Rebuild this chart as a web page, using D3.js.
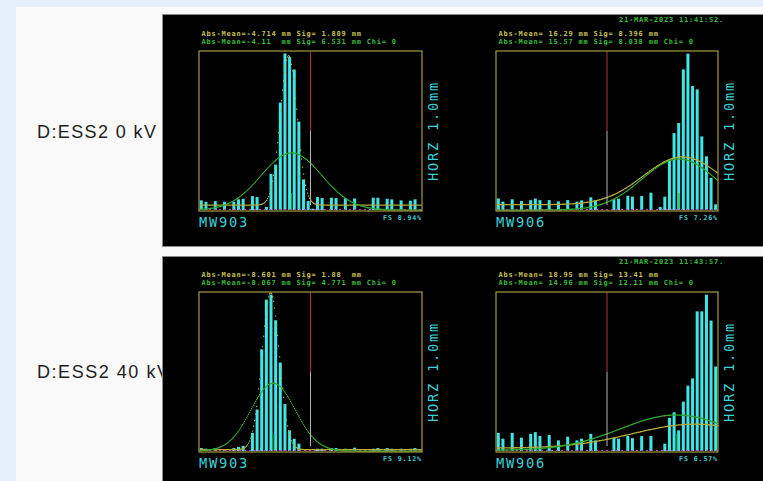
<!DOCTYPE html>
<html>
<head>
<meta charset="utf-8">
<script src="https://cdn.jsdelivr.net/npm/d3@7"></script>
<style>
  body { margin: 0; background: #e6f0fb; }
  svg { display: block; }
</style>
</head>
<body>
<svg id="chart" width="763" height="481"></svg>
<script>
// one-millimetre bins from -24 to +24 mm
const binEdges = d3.range(-24, 24)

const rowLabels = ['D:ESS2 0 kV', 'D:ESS2 40 kV']
const timeStamps = ['21-MAR-2023 11:41:52.', '21-MAR-2023 11:43:57.']
const wireNames = ['MW903', 'MW906']
const axisLabel = 'HORZ 1.0mm'

// histograms, % of samples in each bin
const mw903Off = [0.54, 0.46, 0, 0.50, 0, 0.46, 0, 0.46, 0.60, 0.63, 0, 0.78,
  0.73, 0, 0.17, 2.03, 2.55, 6.04, 8.80, 8.60, 7.90, 4.97, 1.72, 0.50,
  0.07, 0.73, 0.67, 0, 0.69, 0.67, 0, 0.65, 0, 0.65, 0, 0,
  0, 0.69, 0.69, 0, 0.63, 0.60, 0, 0.54, 0, 0.52, 0.60, 0]
const mw906Off = [0.53, 0.38, 0, 0.49, 0, 0.41, 0, 0.45, 0.52, 0.45, 0, 0.45,
  0, 0.39, 0, 0.45, 0, 0.38, 0.44, 0, 0.58, 0.44, 0, 0,
  0, 0.49, 0.52, 0, 0.65, 0.61, 0, 0.64, 0, 0.79, 0, 0.14,
  0.61, 2.30, 3.51, 3.97, 6.42, 7.14, 5.66, 5.51, 3.36, 2.45, 1.47, 0.26]
const mw903On = [0.17, 0.13, 0, 0.17, 0, 0.10, 0, 0.17, 0.23, 0.29, 0, 1.04,
  2.38, 5.83, 8.68, 8.97, 7.50, 5.07, 2.70, 1.18, 0.70, 0.42, 0, 0,
  0, 0.13, 0.13, 0, 0.17, 0.17, 0, 0.13, 0, 0.19, 0, 0,
  0, 0.13, 0.17, 0, 0.17, 0.13, 0, 0.13, 0, 0.13, 0.17, 0]
const mw906On = [0.75, 0.51, 0, 0.75, 0, 0.55, 0, 0.71, 0.78, 0.62, 0, 0.66,
  0, 0.44, 0, 0.59, 0, 0.44, 0.51, 0, 0.71, 0.44, 0, 0,
  0, 0.55, 0.51, 0, 0.62, 0.53, 0, 0.62, 0, 0.62, 0, 0,
  0.30, 1.37, 1.60, 0.85, 2.04, 2.70, 3.00, 5.77, 5.77, 6.46, 5.39, 3.49]
const fullScales = [8.94, 7.26, 9.12, 6.57]

// gaussian fits: [abs-mean mm, sigma mm, amplitude %, pedestal %]
const fitYellow = [[-4.714, 1.809, 8.4, 0.28], [16.29, 8.396, 2.18, 0.245],
  [-8.601, 1.88, 9.0, 0.08], [18.95, 13.41, 0.99, 0.12]]
const fitGreen = [[-4.11, 6.531, 3.21, 0], [15.57, 8.038, 2.33, 0],
  [-8.067, 4.771, 3.89, 0], [14.96, 12.11, 1.46, 0.03]]
const chiValues = [0, 0, 0, 0]

const hist = [mw903Off, mw906Off, mw903On, mw906On]

const mono = "'DejaVu Sans Mono', monospace"
const col = {
  yellowText: '#c8c050', greenText: '#38bc38', cyan: '#3ee6e6', cyanText: '#3cd2d8',
  box: '#a49c40', fitY: '#b4aa3c', fitG: '#2ea82e', magenta: '#c83cc8',
  red: '#b03434', grey: '#b4b4b4'
}

const rowTop = [14, 256]
const rowBottom = [246, 482]
const labelY = [137.7, 377.7]
const plotTop = [51, 292]
const colLeft = [199, 496]
const colWidth = [223, 222]

const svg = d3.select('#chart')

svg.append('rect')
  .attr('x', 16).attr('y', 7)
  .attr('width', 747).attr('height', 474)
  .attr('fill', '#f9f9f9')

rowLabels.forEach((t, r) => {
  svg.append('text')
    .attr('x', 37).attr('y', labelY[r])
    .attr('font-family', "'Liberation Sans', Arial, sans-serif")
    .attr('font-size', 18)
    .attr('textLength', r ? 132 : 119)
    .attr('fill', '#1e1e1e')
    .text(t)
})

const smallText = sel => sel
  .attr('font-family', mono).attr('font-size', 7).attr('font-weight', 'bold')
  .attr('letter-spacing', 0.79).style('white-space', 'pre')

rowTop.forEach((t, r) => {
  svg.append('rect')
    .attr('x', 162.5).attr('y', t + 0.5)
    .attr('width', 620).attr('height', rowBottom[r] - t)
    .attr('fill', '#000').attr('stroke', '#8a8a8a')
  svg.append('text')
    .attr('x', 619).attr('y', t + 8.3)
    .call(smallText)
    .attr('fill', col.greenText)
    .text(timeStamps[r])
})

const fmt = v => ((v < 0 ? '' : ' ') + v).padEnd(6)
const gauss = ([m, s, a, o]) => v => o + a * Math.exp(-((v - m) ** 2) / (2 * s * s))

hist.forEach((values, p) => {
  const r = Math.floor(p / 2), c = p % 2
  const top = plotTop[r], bottom = top + 160
  const left = colLeft[c], right = left + colWidth[c]

  const x = d3.scaleLinear().domain([-24, 24]).range([left, right])
  const y = d3.scaleLinear().domain([0, fullScales[p]]).range([bottom - 1, top])
  const g = svg.append('g')

  // histogram bars
  g.selectAll('rect.bar')
    .data(binEdges.map((b, i) => ({ b, v: values[i] })).filter(d => d.v > 0))
    .join('rect')
    .attr('class', 'bar')
    .attr('x', d => x(d.b + 0.5) - 1.5)
    .attr('width', 3)
    .attr('y', d => y(d.v))
    .attr('height', d => y(0) - y(d.v))
    .attr('fill', col.cyan)

  // magenta zero line
  g.append('line')
    .attr('x1', left).attr('x2', right)
    .attr('y1', y(0) - 0.5).attr('y2', y(0) - 0.5)
    .attr('stroke', col.magenta).attr('stroke-width', 1.2)
    .attr('stroke-dasharray', '2,3')

  // fits, plotted one dot per pixel column like the console does
  ;[[fitYellow[p], col.fitY], [fitGreen[p], col.fitG]].forEach(([fit, colour]) => {
    const f = gauss(fit)
    let d = ''
    d3.range(Math.ceil(left) + 1, Math.floor(right)).forEach(px => {
      const yy = y(f(x.invert(px + 0.5)))
      if (yy >= top && yy <= bottom) d += `M${px},${(yy - 0.6).toFixed(1)}h1.2v1.3h-1.2z`
    })
    g.append('path').attr('d', d).attr('fill', colour)
  })

  // short tick at the green fit mean
  g.append('line')
    .attr('x1', x(fitGreen[p][0])).attr('x2', x(fitGreen[p][0]))
    .attr('y1', y(0)).attr('y2', y(0) - 17)
    .attr('stroke', col.fitG)

  // centre line, red upper half and grey lower half
  const mid = (top + bottom) / 2
  g.append('line')
    .attr('x1', x(0)).attr('x2', x(0)).attr('y1', top).attr('y2', mid)
    .attr('stroke', col.red)
  g.append('line')
    .attr('x1', x(0)).attr('x2', x(0)).attr('y1', mid).attr('y2', bottom - 6)
    .attr('stroke', col.grey)

  g.append('rect')
    .attr('x', left).attr('y', top)
    .attr('width', right - left).attr('height', bottom - top)
    .attr('fill', 'none').attr('stroke', col.box).attr('stroke-width', 1.2)

  const fy = fitYellow[p], fg = fitGreen[p]
  g.append('text')
    .attr('x', left + 2.5).attr('y', top - 15.5)
    .call(smallText)
    .attr('fill', col.yellowText)
    .text(`Abs-Mean=${fmt(fy[0])} mm Sig=${fmt(fy[1])} mm`)
  g.append('text')
    .attr('x', left + 2.5).attr('y', top - 6.8)
    .call(smallText)
    .attr('fill', col.greenText)
    .text(`Abs-Mean=${fmt(fg[0])} mm Sig=${fmt(fg[1])} mm Chi= ${chiValues[p]}`)

  g.append('text')
    .attr('transform', `translate(${right + 16},${mid}) rotate(-90)`)
    .attr('text-anchor', 'middle')
    .attr('font-family', mono).attr('font-size', 13.7).attr('letter-spacing', 1.75)
    .attr('fill', col.cyanText)
    .text(axisLabel)

  g.append('text')
    .attr('x', left).attr('y', bottom + 16.3)
    .attr('font-family', mono).attr('font-size', 13.7).attr('letter-spacing', 1.75)
    .attr('fill', col.cyanText)
    .text(wireNames[c])

  g.append('text')
    .attr('x', right).attr('y', bottom + 9)
    .attr('text-anchor', 'end')
    .attr('font-family', mono).attr('font-size', 6.6).attr('font-weight', 'bold')
    .attr('letter-spacing', 0.9)
    .attr('fill', col.cyanText)
    .text(`FS ${fullScales[p]}%`)
})
</script>
</body>
</html>
